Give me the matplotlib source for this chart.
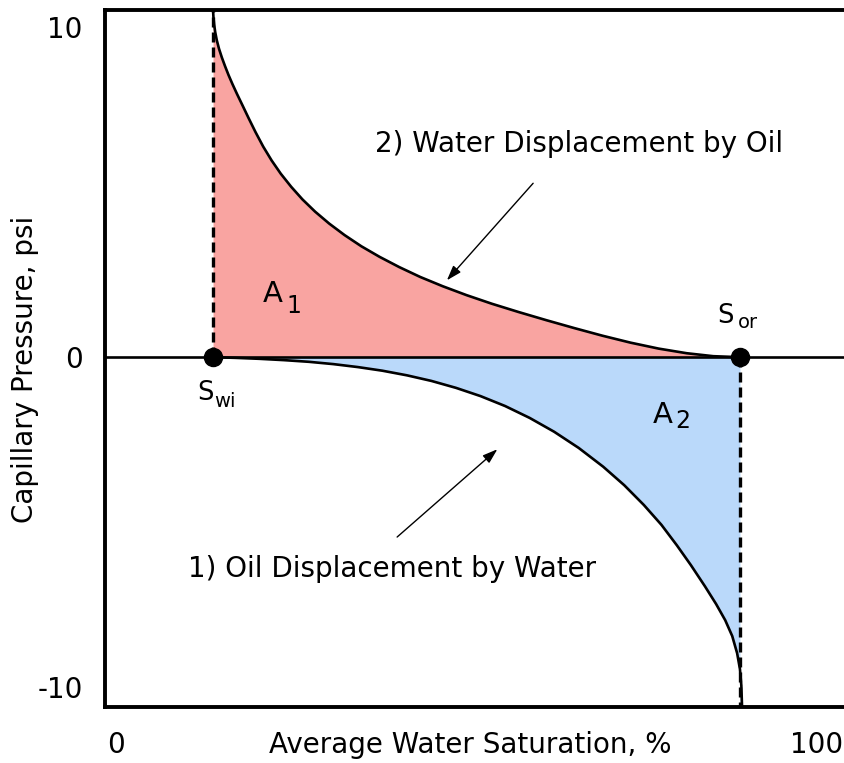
import matplotlib
matplotlib.use("Agg")
import matplotlib.pyplot as plt

# ---- data ----
x_ticks = [0, 100]
x_tick_labels = ["0", "100"]
y_ticks = [10, 0, -10]
y_tick_labels = ["10", "0", "-10"]

swi = 13.84
sor = 89.0

# 2) Water displacement by oil (upper curve)
upper_x = [13.84, 13.90, 14.0, 14.15, 14.38, 14.7, 15.1, 15.55, 16.05, 16.6, 17.25, 18.0,
           18.9, 19.9, 21.0, 22.2, 23.5, 25.0, 26.6, 28.4, 30.4, 32.6, 35.0, 37.6,
           40.4, 43.4, 46.6, 50.0, 53.6, 57.4, 61.4, 65.4, 69.4, 73.4, 77.4, 81.4,
           85.2, 89.0]
upper_y = [10.52, 10.30, 10.08, 9.85, 9.60, 9.34, 9.08, 8.82, 8.55, 8.28, 7.98, 7.65,
           7.25, 6.82, 6.38, 5.96, 5.56, 5.16, 4.78, 4.41, 4.05, 3.70, 3.36, 3.04,
           2.73, 2.43, 2.15, 1.88, 1.62, 1.37, 1.12, 0.88, 0.65, 0.44, 0.26, 0.12,
           0.03, 0.0]

# 1) Oil displacement by water (lower curve)
lower_x = [13.84, 17.0, 20.5, 24.0, 27.5, 31.0, 34.5, 38.0, 41.5, 45.0, 48.5,
           52.0, 55.5, 59.0, 62.5, 66.0, 69.5, 72.5, 75.3, 77.8, 80.0, 82.0,
           84.0, 85.6, 86.9, 87.9, 88.6, 89.0, 89.2, 89.3]
lower_y = [0.0, -0.02, -0.05, -0.09, -0.14, -0.21, -0.30, -0.41, -0.55, -0.72, -0.93,
           -1.18, -1.48, -1.84, -2.26, -2.75, -3.32, -3.88, -4.48, -5.08, -5.70, -6.30,
           -6.94, -7.48, -7.97, -8.45, -8.97, -9.45, -9.95, -10.6]

FONT = "DejaVu Sans"
plt.rcParams["font.family"] = [FONT]

fig = plt.figure(figsize=(8.44, 7.63), dpi=100)
ax = fig.add_axes([105 / 844, 1 - 707 / 763, 745 / 844, 697 / 763])
ax.set_xlim(-1.57, 104.7)
ax.set_ylim(-10.6, 10.52)

red = "#F9A4A1"
blue = "#BAD9FA"

ax.fill_between(upper_x, upper_y, 0, color=red, lw=0, zorder=1)
ax.fill_betweenx(lower_y, lower_x, sor, color=blue, lw=0, zorder=1)

ax.axhline(0, color="black", lw=1.9, zorder=3)
ax.plot(upper_x, upper_y, color="black", lw=1.9, zorder=4, solid_capstyle="round",
        solid_joinstyle="round")
ax.plot(lower_x, lower_y, color="black", lw=1.9, zorder=4, solid_capstyle="round",
        solid_joinstyle="round")

ax.plot([swi, swi], [0, 10.52], color="black", lw=2.4, ls=(0, (3.0, 1.5)), zorder=5)
ax.plot([sor, sor], [0, -10.6], color="black", lw=2.4, ls=(0, (3.0, 1.5)), zorder=5)

ax.plot([swi, sor], [0, 0], ls="none", marker="o", ms=13, color="black", zorder=6)

# axes styling
for s in ["top", "left", "bottom"]:
    ax.spines[s].set_linewidth(2.8)
ax.spines["right"].set_visible(False)

ax.set_xticks(x_ticks)
ax.set_xticklabels(x_tick_labels)
ax.set_yticks(y_ticks)
ax.set_yticklabels(y_tick_labels)
ax.tick_params(axis="x", length=0, pad=17.5, labelsize=20)
ax.tick_params(axis="y", length=0, pad=16, labelsize=20)

ax.set_xlabel("Average Water Saturation, %", fontsize=20, va="center")
ax.xaxis.set_label_coords((470 - 105) / 745, -(745 - 707) / 697)
ax.set_ylabel("Capillary Pressure, psi", fontsize=20, va="center")
ax.yaxis.set_label_coords((25 - 105) / 745, (707 - 369) / 697)

# labels
ax.text(11.55, -1.30, "S", fontsize=18.5, ha="left", va="baseline")
ax.text(14.0, -1.52, "wi", fontsize=14, ha="left", va="baseline")
ax.text(85.7, 1.03, "S", fontsize=18.5, ha="left", va="baseline")
ax.text(88.7, 0.88, "or", fontsize=14, ha="left", va="baseline")

ax.text(20.97, 1.67, "A", fontsize=21, ha="left", va="baseline", zorder=7)
ax.text(24.35, 1.33, "1", fontsize=17, ha="left", va="baseline", zorder=7)
ax.text(76.5, -2.0, "A", fontsize=21, ha="left", va="baseline", zorder=7)
ax.text(79.8, -2.15, "2", fontsize=17, ha="left", va="baseline", zorder=7)

ax.text(36.9, 6.21, "2) Water Displacement by Oil", fontsize=20, ha="left", va="baseline")
ax.text(10.3, -6.67, "1) Oil Displacement by Water", fontsize=20, ha="left", va="baseline")

arrow = dict(arrowstyle="-|>,head_length=0.9,head_width=0.3", color="black", lw=1.0,
             shrinkA=0, shrinkB=0)
ax.annotate("", xy=(47.2, 2.33), xytext=(59.5, 5.27), arrowprops=arrow, zorder=8)
ax.annotate("", xy=(54.4, -2.79), xytext=(40.1, -5.45), arrowprops=arrow, zorder=8)

fig.savefig("out.png", dpi=100)
